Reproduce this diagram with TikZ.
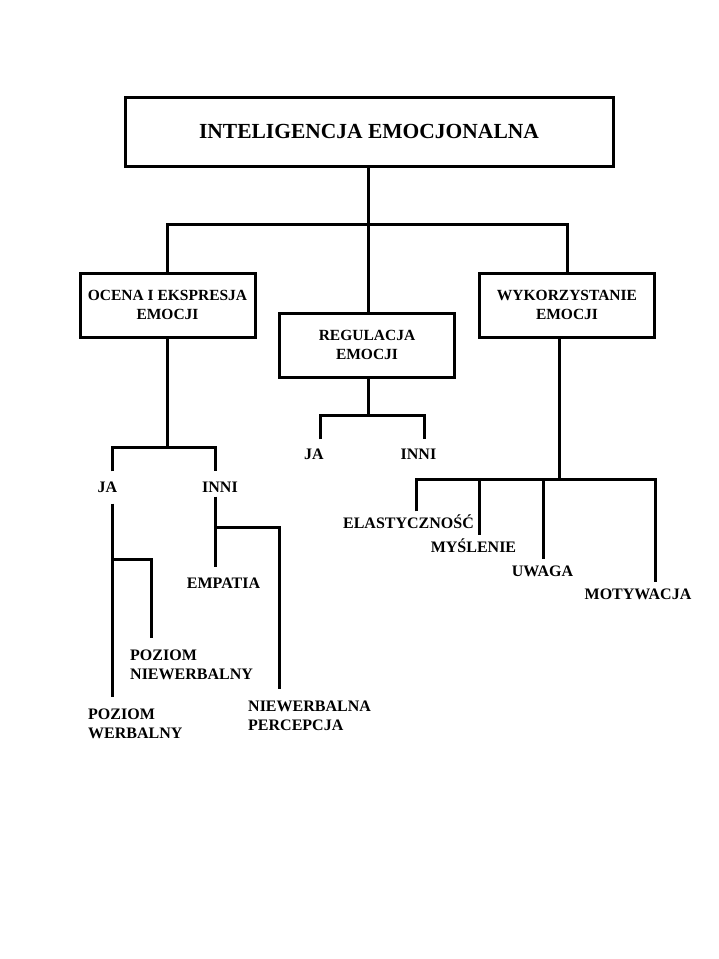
\documentclass[tikz,border=0pt]{standalone}
\usepackage{fontspec}
\setmainfont{Liberation Serif}
\usepackage{tikz}
\usetikzlibrary{calc}

\tikzset{
  bigbox/.style={draw, line width=3pt, minimum width=488pt, minimum height=69pt,
    font=\fontsize{21.5}{26}\selectfont\bfseries},
  midbox/.style={draw, line width=3pt, minimum width=175pt, minimum height=64pt,
    align=center, font=\fontsize{15.5}{19}\selectfont\bfseries},
  lbl/.style={inner xsep=0pt, inner ysep=6pt, text height=11pt, text depth=0pt,
    font=\fontsize{16}{19}\selectfont\bfseries},
  lbltwo/.style={anchor=north west, inner xsep=0pt, inner ysep=12pt, align=left,
    font=\fontsize{16}{19}\selectfont\bfseries},
  wire/.style={line width=3pt}
}

\begin{document}
\begin{tikzpicture}[x=1pt,y=-1pt]
\useasboundingbox[fill=white] (0,0) rectangle (719,959);

\node[bigbox] (ie) at (369,131.5) {INTELIGENCJA EMOCJONALNA};
\node[midbox] (oc) at (167.5,305) {OCENA I EKSPRESJA\\EMOCJI};
\node[midbox] (reg) at (367,345) {REGULACJA\\EMOCJI};
\node[midbox] (wy) at (567,305) {WYKORZYSTANIE\\EMOCJI};

\node[lbl] (jaa) at (107.5,487) {JA};
\node[lbl] (innia) at (220,487) {INNI};
\node[lbl] (emp) at (223.5,583) {EMPATIA};
\node[lbltwo] (pn) at (130,638) {POZIOM\\NIEWERBALNY};
\node[lbltwo] (pw) at (88,697) {POZIOM\\WERBALNY};
\node[lbltwo] (np) at (248,689) {NIEWERBALNA\\PERCEPCJA};

\node[lbl] (jab) at (314,454) {JA};
\node[lbl] (innib) at (418.5,454) {INNI};

\node[lbl] (el) at (408.5,523) {ELASTYCZNOŚĆ};
\node[lbl] (my) at (473.5,547) {MYŚLENIE};
\node[lbl] (uw) at (542.5,571) {UWAGA};
\node[lbl] (mo) at (638,594) {MOTYWACJA};

\draw[wire] (ie.south -| 368,0) -- (reg.north -| 368,0);
\draw[wire] (oc.north) -- (oc.north |- 0,224) -| (wy.north);

\draw[wire] (oc.south -| 167,0) -- (167,447);
\draw[wire, shorten <=4pt, shorten >=4pt] (jaa.north -| 112,0) -- (112,447) -- (215,447) -- (innia.north -| 215,0);
\draw[wire, shorten <=5pt] (jaa.south -| 112,0) -- (pw.north -| 112,0);
\draw[wire] (112,559) -| (pn.north -| 151,0);
\draw[wire, shorten <=-2pt, shorten >=4pt] (innia.south -| 215,0) -- (emp.north -| 215,0);
\draw[wire] (215,527) -| (np.north -| 279,0);

\draw[wire] (reg.south -| 368,0) -- (368,415);
\draw[wire, shorten <=3pt, shorten >=3pt] (jab.north -| 320,0) -- (320,415) -- (424,415) -- (innib.north -| 424,0);

\draw[wire] (wy.south -| 559,0) -- (559,479);
\draw[wire] (el.north -| 416,0) -- (416,479) -- (655,479) -- (mo.north -| 655,0);
\draw[wire] (479,479) -- (my.north -| 479,0);
\draw[wire] (543,479) -- (uw.north -| 543,0);
\end{tikzpicture}
\end{document}
